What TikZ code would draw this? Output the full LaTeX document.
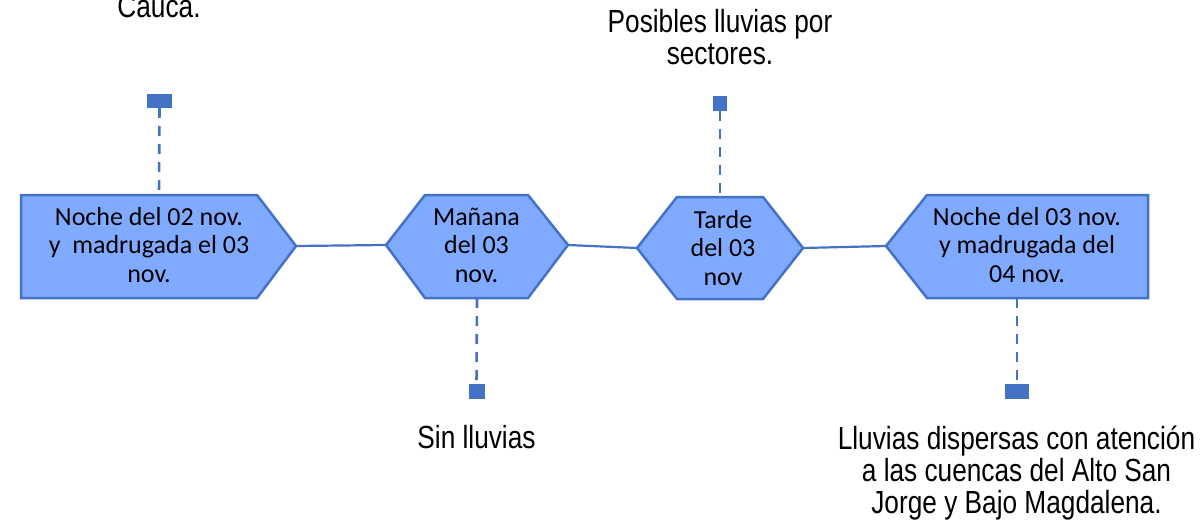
\documentclass[tikz,border=0pt]{standalone}
\usepackage{fontspec}
\setmainfont{Carlito}
\newfontfamily\narrowfont[FakeStretch=0.82]{Liberation Sans}
\definecolor{edge}{RGB}{68,114,196}
\definecolor{boxfill}{RGB}{128,170,255}
\begin{document}
\begin{tikzpicture}[x=1pt,y=-1pt,
  shapebox/.style={draw=edge,fill=boxfill,line width=2.5pt,line join=miter},
  link/.style={draw=edge,line width=2.2pt},
  leader/.style={draw=edge,line width=2.6pt,dash pattern=on 10pt off 8pt},
  marker/.style={fill=edge,draw=none,inner sep=0pt,outer sep=0pt},
  boxtext/.style={font=\fontsize{26}{28.5}\selectfont,align=center,anchor=base,inner sep=0pt},
  note/.style={font=\narrowfont\fontsize{32}{32}\selectfont,align=center,inner sep=0pt,anchor=base}]
\useasboundingbox (0,0) rectangle (1201,524);

% anchor coordinates on the shapes
\coordinate (s1r) at (296,246);
\coordinate (s1t) at (159,195);
\coordinate (s2l) at (386,245);
\coordinate (s2r) at (568,245);
\coordinate (s2b) at (477,298);
\coordinate (s3l) at (637,248);
\coordinate (s3r) at (803,248);
\coordinate (s3t) at (720,197);
\coordinate (s4l) at (886,246);
\coordinate (s4b) at (1017,298);

% markers
\node[marker,minimum width=25pt,minimum height=14pt] (m1) at (159.5,101) {};
\node[marker,minimum width=16pt,minimum height=15pt] (m2) at (476.5,391.5) {};
\node[marker,minimum width=14pt,minimum height=15pt] (m3) at (720,103.5) {};
\node[marker,minimum width=24pt,minimum height=15pt] (m4) at (1017,391.5) {};

% leaders
\draw[leader] (m1.south) -- (s1t);
\draw[leader] (s2b) -- (m2.north);
\draw[leader] (m3.south) -- (s3t);
\draw[leader] (s4b) -- (m4.north);

% connectors
\draw[link] (s1r) -- (s2l);
\draw[link] (s2r) -- (s3l);
\draw[link] (s3r) -- (s4l);

% shapes
\path[shapebox] (21,195) -- (257,195) -- (s1r) -- (257,298) -- (21,298) -- cycle;
\path[shapebox] (s2l) -- (425,195) -- (528,195) -- (s2r) -- (528,298) -- (425,298) -- cycle;
\path[shapebox] (s3l) -- (677,197) -- (763,197) -- (s3r) -- (763,299) -- (677,299) -- cycle;
\path[shapebox] (s4l) -- (927,195) -- (1148,195) -- (1148,298) -- (927,298) -- cycle;

% box texts (anchor=base is the last line's baseline)
\node[boxtext] (t1) at (149,282) {Noche del 02 nov.\\y~ madrugada el 03\\nov.};
\node[boxtext] (t2) at (476.5,282) {Mañana\\del 03\\nov.};
\node[boxtext] (t3) at (723,285) {Tarde\\del 03\\nov};
\node[boxtext] (t4) at (1027,282) {Noche del 03 nov.\\y madrugada del\\04 nov.};

% notes
\node[note] (n1) at (159,18) {Cauca.};
\node[note] (n3) at (720,65) {Posibles lluvias por\\sectores.};
\node[note] (n2) at (476.5,448) {Sin lluvias};
\node[note] (n4) at (1016.5,513) {Lluvias dispersas con atención\\a las cuencas del Alto San\\Jorge y Bajo Magdalena.};
\end{tikzpicture}
\end{document}
